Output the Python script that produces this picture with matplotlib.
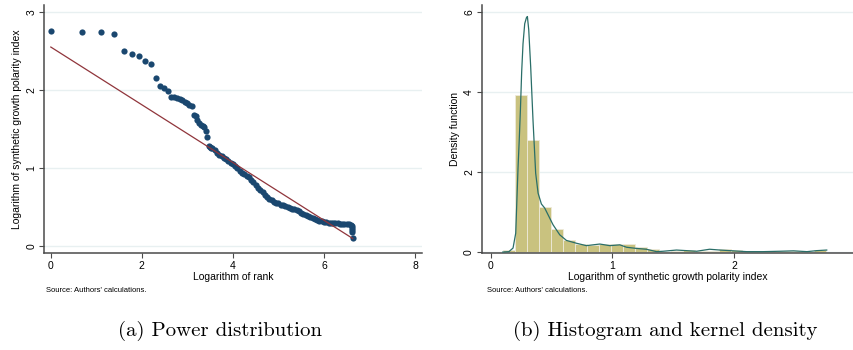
import matplotlib
matplotlib.use("Agg")
import matplotlib.pyplot as plt
import numpy as np

# ---- panel (a): log index vs log rank ----
top_rank = list(range(1, 35))
top_y = [2.76, 2.74, 2.74, 2.72, 2.50, 2.46, 2.43, 2.37, 2.33, 2.155,
         2.05, 2.02, 1.985, 1.91, 1.905, 1.90, 1.89, 1.87, 1.85, 1.83,
         1.81, 1.79, 1.68, 1.67, 1.62, 1.58, 1.55, 1.54, 1.52, 1.475,
         1.40, 1.28, 1.27, 1.26]
dense_lnrank = [3.55, 3.6, 3.65, 3.7, 3.75, 3.8, 3.85, 3.9, 3.95, 4.0,
                4.05, 4.1, 4.15, 4.2, 4.25, 4.3, 4.35, 4.4, 4.45, 4.5,
                4.55, 4.6, 4.65, 4.7, 4.75, 4.8, 4.85, 4.9, 4.95, 5.0,
                5.05, 5.1, 5.15, 5.2, 5.25, 5.3, 5.35, 5.4, 5.45, 5.5,
                5.55, 5.6, 5.65, 5.7, 5.75, 5.8, 5.85, 5.9, 5.95, 6.0,
                6.05, 6.1, 6.15, 6.2, 6.25, 6.3, 6.35, 6.4, 6.45, 6.5,
                6.55, 6.6, 6.62, 6.62, 6.62, 6.62, 6.63]
dense_y = [1.25, 1.23, 1.19, 1.17, 1.15, 1.13, 1.11, 1.09, 1.07, 1.05,
           1.03, 1.00, 0.96, 0.94, 0.92, 0.90, 0.88, 0.85, 0.82, 0.78,
           0.75, 0.72, 0.69, 0.66, 0.63, 0.60, 0.585, 0.57, 0.555, 0.545,
           0.53, 0.52, 0.51, 0.50, 0.49, 0.48, 0.47, 0.46, 0.445, 0.425,
           0.41, 0.40, 0.385, 0.37, 0.355, 0.34, 0.33, 0.32, 0.315, 0.31,
           0.305, 0.30, 0.298, 0.295, 0.292, 0.29, 0.288, 0.285, 0.283, 0.28,
           0.278, 0.275, 0.26, 0.23, 0.20, 0.18, 0.10]
fit_intercept = 2.55
fit_slope = -0.37

# ---- panel (b): histogram + kernel density ----
hist_min, hist_max, n_bins = 0.10, 2.76, 27
hist_heights = [0.06, 3.92, 2.80, 1.12, 0.58, 0.29, 0.21, 0.17, 0.20, 0.20,
                0.20, 0.12, 0.07, 0.01, 0.02, 0.05, 0.03, 0.02, 0.07, 0.04,
                0.02, 0.0, 0.0, 0.02, 0.03, 0.0, 0.06]
kd_x = [0.10, 0.15, 0.184, 0.206, 0.225, 0.235, 0.244, 0.255, 0.266, 0.28,
        0.294, 0.302, 0.313, 0.329, 0.348, 0.37, 0.39, 0.417, 0.444, 0.472,
        0.513, 0.568, 0.623, 0.705, 0.787, 0.897, 0.979, 1.062, 1.117, 1.2,
        1.28, 1.364, 1.418, 1.528, 1.638, 1.693, 1.80, 1.885, 1.995, 2.104,
        2.24, 2.38, 2.49, 2.6, 2.68, 2.763]
kd_y = [0.0, 0.01, 0.1, 0.47, 2.1, 2.8, 3.5, 4.5, 5.2, 5.7,
        5.85, 5.88, 5.55, 4.63, 3.3, 1.97, 1.47, 1.2, 1.1, 0.93,
        0.68, 0.43, 0.29, 0.22, 0.16, 0.20, 0.16, 0.18, 0.12, 0.09,
        0.07, 0.01, 0.02, 0.05, 0.03, 0.02, 0.07, 0.05, 0.03, 0.01,
        0.01, 0.02, 0.03, 0.01, 0.035, 0.05]

navy = "#1a476f"
maroon = "#90353b"
khaki = "#c9c27f"
teal = "#2a6e68"
grid_c = "#e8f0f1"
spine_c = "#4a4a4a"

plt.rcParams['font.family'] = ['Liberation Sans', 'DejaVu Sans']
fig = plt.figure(figsize=(8.54, 3.5), dpi=100)

ax1 = fig.add_axes([0.0515, 0.277, 0.4425, 0.709])
ax2 = fig.add_axes([0.564, 0.277, 0.435, 0.709])

for ax in (ax1, ax2):
    for s in ("top", "right"):
        ax.spines[s].set_visible(False)
    for s in ("left", "bottom"):
        ax.spines[s].set_color(spine_c)
        ax.spines[s].set_linewidth(1.1)
    ax.tick_params(direction="out", length=3.5, width=0.8, color=spine_c,
                   labelsize=7.5, pad=2)
    ax.tick_params(axis="y", labelrotation=90)
    ax.grid(axis="y", color=grid_c, linewidth=1.0)
    ax.set_axisbelow(True)

# panel (a)
x_all = np.concatenate([np.log(top_rank), dense_lnrank])
y_all = np.concatenate([top_y, dense_y])
ax1.scatter(x_all, y_all, s=20, color=navy, linewidths=0, zorder=3)
xf = np.array([0, max(dense_lnrank)])
ax1.plot(xf, fit_intercept + fit_slope * xf, color=maroon, lw=0.9, zorder=4)
ax1.set_xlim(-0.15, 8.15)
ax1.set_ylim(-0.09, 3.09)
ax1.set_xticks([0, 2, 4, 6, 8])
ax1.set_yticks([0, 1, 2, 3])
ax1.set_xlabel("Logarithm of rank", fontsize=7.5, labelpad=1)
ax1.set_ylabel("Logarithm of synthetic growth polarity index", fontsize=7.5, labelpad=3)
for lab in ax1.get_yticklabels():
    lab.set_va("center")

# panel (b)
edges = np.linspace(hist_min, hist_max, n_bins + 1)
ax2.bar(edges[:-1], hist_heights, width=np.diff(edges), align="edge",
        color=khaki, edgecolor="#eeeadb", linewidth=0.6, zorder=2)
ax2.plot(kd_x, kd_y, color=teal, lw=0.9, zorder=3)
ax2.set_xlim(-0.074, 2.98)
ax2.set_ylim(-0.025, 6.17)
ax2.set_xticks([0, 1, 2])
ax2.set_yticks([0, 2, 4, 6])
ax2.set_xlabel("Logarithm of synthetic growth polarity index", fontsize=7.5, labelpad=1)
ax2.set_ylabel("Density function", fontsize=7.5, labelpad=3)
for lab in ax2.get_yticklabels():
    lab.set_va("center")

fig.text(46 / 854, 1 - 290 / 350, "Source: Authors' calculations.", fontsize=5.5,
         va="center", ha="left")
fig.text(487 / 854, 1 - 290 / 350, "Source: Authors' calculations.", fontsize=5.5,
         va="center", ha="left")

fig.text(220 / 854, 1 - 331 / 350, "(a) Power distribution", family="cmr10",
         fontsize=15, ha="center", va="center")
fig.text(665 / 854, 1 - 331 / 350, "(b) Histogram and kernel density", family="cmr10",
         fontsize=15, ha="center", va="center")

fig.savefig("out.png", dpi=100)
